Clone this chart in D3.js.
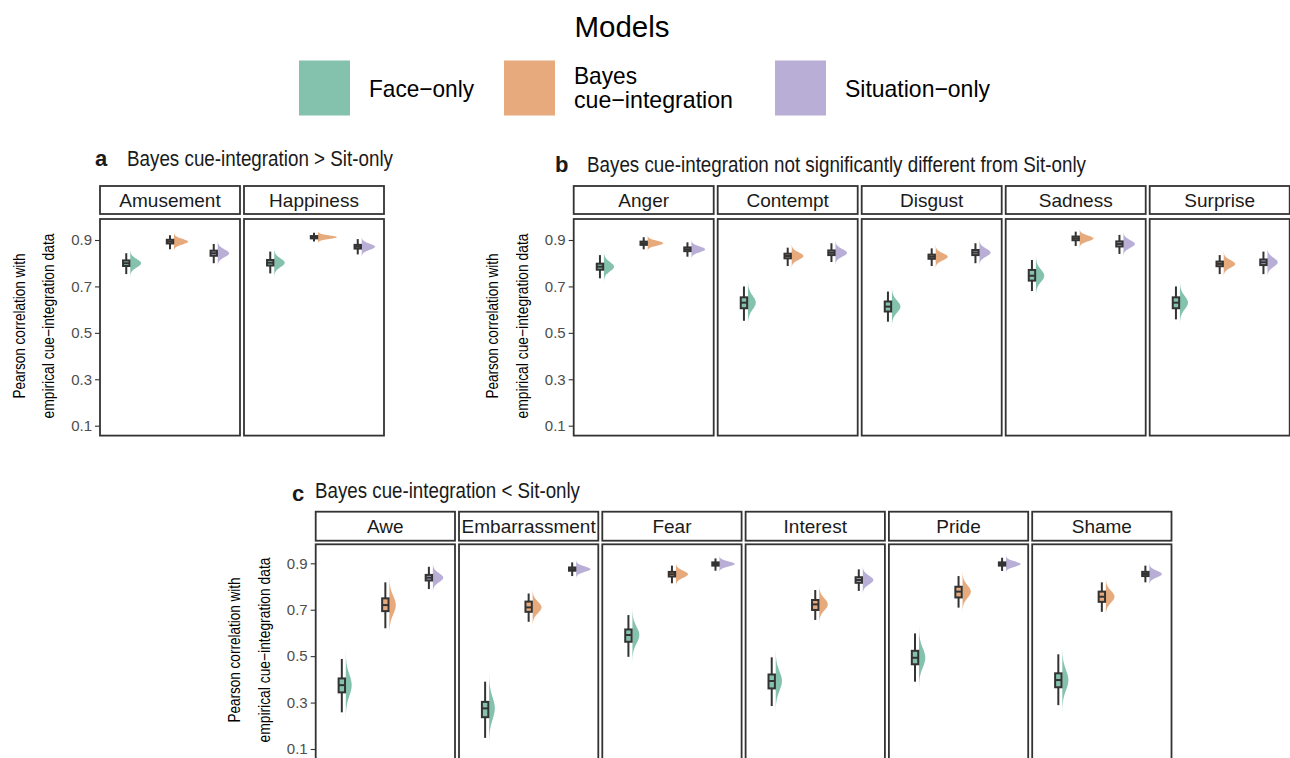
<!DOCTYPE html>
<html><head><meta charset="utf-8">
<script src="https://cdn.jsdelivr.net/npm/d3@7"></script>
<style>body{margin:0;background:#fff} svg{display:block}</style>
</head><body>
<svg id="chart" width="1290" height="758"></svg>
<script>
// ---------- DATA ----------
const models = ["Face−only", "Bayes cue−integration", "Situation−only"];
const modelColors = ["#84c2ad", "#e6aa7c", "#b8aed6"];
const emotions = ["Amusement","Happiness","Anger","Contempt","Disgust","Sadness","Surprise",
                  "Awe","Embarrassment","Fear","Interest","Pride","Shame"];
const emotionGroup = ["a","a","b","b","b","b","b","c","c","c","c","c","c"];
const groupIds = ["a","b","c"];
const groupTitles = ["Bayes cue-integration > Sit-only",
                     "Bayes cue-integration not significantly different from Sit-only",
                     "Bayes cue-integration < Sit-only"];
const yTicks = [0.1, 0.3, 0.5, 0.7, 0.9];
const yTitleLines = ["Pearson correlation with", "empirical cue−integration data"];

const faceMedian = [0.800,0.802,0.785,0.630,0.613,0.746,0.630,0.375,0.275,0.591,0.393,0.493,0.397];
const faceQ1     = [0.788,0.790,0.772,0.606,0.592,0.725,0.606,0.344,0.237,0.562,0.361,0.465,0.366];
const faceQ3     = [0.812,0.814,0.798,0.653,0.635,0.771,0.653,0.404,0.303,0.615,0.421,0.523,0.426];
const faceLo     = [0.753,0.756,0.735,0.552,0.548,0.680,0.558,0.258,0.148,0.497,0.285,0.390,0.289];
const faceHi     = [0.843,0.850,0.835,0.700,0.678,0.814,0.700,0.488,0.390,0.677,0.495,0.598,0.508];

const bayesMedian = [0.893,0.912,0.886,0.831,0.828,0.907,0.797,0.720,0.710,0.853,0.723,0.778,0.756];
const bayesQ1     = [0.885,0.907,0.879,0.821,0.819,0.899,0.787,0.694,0.691,0.843,0.699,0.753,0.734];
const bayesQ3     = [0.901,0.917,0.893,0.841,0.837,0.915,0.807,0.749,0.735,0.863,0.742,0.799,0.778];
const bayesLo     = [0.860,0.893,0.860,0.788,0.788,0.874,0.753,0.620,0.648,0.814,0.656,0.709,0.691];
const bayesHi     = [0.920,0.931,0.912,0.867,0.864,0.936,0.835,0.818,0.770,0.890,0.785,0.845,0.818];

const sitMedian = [0.843,0.871,0.860,0.845,0.846,0.883,0.804,0.838,0.875,0.897,0.828,0.897,0.854];
const sitQ1     = [0.832,0.863,0.852,0.835,0.835,0.872,0.792,0.826,0.868,0.890,0.816,0.890,0.845];
const sitQ3     = [0.854,0.879,0.868,0.855,0.857,0.894,0.816,0.850,0.882,0.904,0.840,0.904,0.863];
const sitLo     = [0.800,0.838,0.828,0.805,0.800,0.840,0.753,0.789,0.845,0.868,0.781,0.867,0.818];
const sitHi     = [0.883,0.904,0.890,0.886,0.886,0.922,0.850,0.885,0.904,0.921,0.874,0.924,0.890];

// ---------- LAYOUT ----------
const FONT = "'Liberation Sans', Arial, Helvetica, sans-serif";
const DARK = "#333333";
const layout = {
  a: {left:100,   step:144,   width:140,   stripTop:186,   stripH:28, panelTop:219,   panelBottom:435.6, y09:240,   y01:425.7,
      letterX:95,  titleX:127, titleY:166, titleLen:266, letterY:166, yTitleCy:326},
  b: {left:573.7, step:144,   width:140,   stripTop:186,   stripH:28, panelTop:219,   panelBottom:435.6, y09:240,   y01:425.7,
      letterX:555, titleX:587, titleY:172, titleLen:499, letterY:172, yTitleCy:326},
  c: {left:315.7, step:143.3, width:139.3, stripTop:511.7, stripH:29, panelTop:544.3, panelBottom:760,   y09:563.3, y01:749,
      letterX:292, titleX:315, titleY:498, titleLen:265, letterY:501, yTitleCy:650}
};

const svg = d3.select("#chart");

// ---------- LEGEND ----------
svg.append("text").attr("x", 622).attr("y", 37).attr("text-anchor","middle")
   .attr("font-family", FONT).attr("font-size", 30).attr("fill","#000")
   .attr("textLength", 95).attr("lengthAdjust","spacingAndGlyphs").text("Models");
const legendX = [299, 504, 775];
const legendTextX = [369, 574, 845];
const legendLabelLines = [["Face−only"], ["Bayes", "cue−integration"], ["Situation−only"]];
const legendLabelLens = [[105], [63, 159], [145]];
models.forEach((m, i) => {
  svg.append("rect").attr("x", legendX[i]).attr("y", 60.5).attr("width", 51).attr("height", 55)
     .attr("fill", modelColors[i]);
  const lines = legendLabelLines[i];
  const baselines = lines.length === 1 ? [97] : [83.5, 108];
  lines.forEach((t, j) => {
    svg.append("text").attr("x", legendTextX[i]).attr("y", baselines[j])
       .attr("font-family", FONT).attr("font-size", 24).attr("fill", "#000")
       .attr("textLength", legendLabelLens[i][j]).attr("lengthAdjust","spacingAndGlyphs").text(t);
  });
});

// ---------- PANELS ----------
const stats = [
  {med: faceMedian,  q1: faceQ1,  q3: faceQ3,  lo: faceLo,  hi: faceHi},
  {med: bayesMedian, q1: bayesQ1, q3: bayesQ3, lo: bayesLo, hi: bayesHi},
  {med: sitMedian,   q1: sitQ1,   q3: sitQ3,   lo: sitLo,   hi: sitHi}
];

groupIds.forEach((g, gi) => {
  const L = layout[g];
  const y = d3.scaleLinear().domain([0.1, 0.9]).range([L.y01, L.y09]);
  const x = d3.scalePoint().domain(models).range([0, L.width]).padding(0.6);

  // group title
  svg.append("text").attr("x", L.letterX).attr("y", L.letterY)
     .attr("font-family", FONT).attr("font-size", 22).attr("font-weight", "bold").attr("fill", "#1a1a1a").text(g);
  svg.append("text").attr("x", L.titleX).attr("y", L.titleY)
     .attr("font-family", FONT).attr("font-size", 22).attr("fill", "#1a1a1a")
     .attr("textLength", L.titleLen).attr("lengthAdjust","spacingAndGlyphs").text(groupTitles[gi]);

  // y axis title
  const yCy = L.yTitleCy;
  [[75.5, 145], [46, 185]].forEach(([off, len], j) => {
    svg.append("text")
       .attr("transform", `translate(${L.left - off},${yCy}) rotate(-90)`)
       .attr("text-anchor", "middle").attr("font-family", FONT).attr("font-size", 16).attr("fill", "#000")
       .attr("textLength", len).attr("lengthAdjust","spacingAndGlyphs").text(yTitleLines[j]);
  });

  // y axis (left of first panel)
  const axisG = svg.append("g").attr("transform", `translate(${L.left},0)`)
     .call(d3.axisLeft(y).tickValues(yTicks).tickFormat(d3.format(".1f")).tickSize(5).tickPadding(3));
  axisG.select(".domain").remove();
  axisG.selectAll(".tick line").attr("stroke", DARK).attr("stroke-width", 1.1);
  axisG.selectAll(".tick text").attr("font-family", FONT).attr("font-size", 15).attr("fill", "#4d4d4d");

  const idxs = emotions.map((e, i) => i).filter(i => emotionGroup[i] === g);
  idxs.forEach((ei, k) => {
    const px = L.left + k * L.step;
    // strip
    svg.append("rect").attr("x", px).attr("y", L.stripTop).attr("width", L.width).attr("height", L.stripH)
       .attr("fill", "#fff").attr("stroke", DARK).attr("stroke-width", 1.8);
    svg.append("text").attr("x", px + L.width / 2).attr("y", L.stripTop + L.stripH / 2 + 6.8)
       .attr("text-anchor", "middle").attr("font-family", FONT).attr("font-size", 19).attr("fill", "#1a1a1a")
       .text(emotions[ei]);
    // panel
    svg.append("rect").attr("x", px).attr("y", L.panelTop).attr("width", L.width).attr("height", L.panelBottom - L.panelTop)
       .attr("fill", "#fff").attr("stroke", DARK).attr("stroke-width", 1.8);

    const pg = svg.append("g").attr("transform", `translate(${px},0)`);
    models.forEach((m, mi) => {
      const S = stats[mi];
      const med = S.med[ei], lo = S.lo[ei], hi = S.hi[ei], q1 = S.q1[ei], q3 = S.q3[ei];
      const cx = x(m);
      // half violin (density from the read spread)
      const sd = (hi - lo) / 5;
      const sdPx = Math.abs(y(med + sd) - y(med));
      const peak = 27.4 * Math.pow(sdPx, -0.65);
      const vals = d3.range(-3.8, 3.81, 0.1).map(z => ({v: med + z * sd, w: peak * Math.exp(-0.5 * z * z)}));
      const area = d3.area().y(d => y(d.v)).x0(cx + 4).x1(d => cx + 4 + d.w).curve(d3.curveBasis);
      pg.append("path").attr("d", area(vals)).attr("fill", modelColors[mi]);
      // whisker
      pg.append("line").attr("x1", cx).attr("x2", cx).attr("y1", y(lo)).attr("y2", y(hi))
        .attr("stroke", DARK).attr("stroke-width", 2);
      // box
      pg.append("rect").attr("x", cx - 3.2).attr("width", 6.4)
        .attr("y", y(q3)).attr("height", Math.max(0.5, y(q1) - y(q3)))
        .attr("fill", modelColors[mi]).attr("stroke", DARK).attr("stroke-width", 2);
      pg.append("line").attr("x1", cx - 3.2).attr("x2", cx + 3.2).attr("y1", y(med)).attr("y2", y(med))
        .attr("stroke", DARK).attr("stroke-width", 2);
    });
  });
});
</script>
</body></html>
